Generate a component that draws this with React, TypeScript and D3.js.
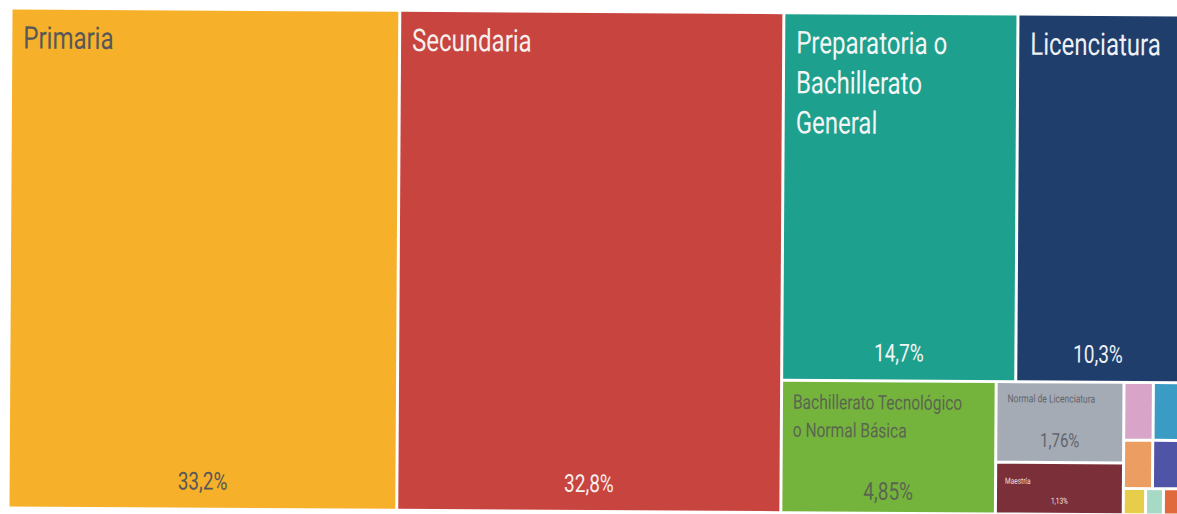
import React from "react";
import * as d3 from "d3";

// ---- data ----
const categories = [
  "Primaria",
  "Secundaria",
  "Preparatoria o Bachillerato General",
  "Licenciatura",
  "Bachillerato Tecnológico o Normal Básica",
  "Normal de Licenciatura",
  "Maestría",
  "Estudios técnicos con preparatoria",
  "Especialidad",
  "Estudios técnicos con secundaria",
  "Doctorado",
  "Preescolar",
  "Estudios técnicos con primaria",
  "No especificado",
];
const shares = [33.2, 32.8, 14.7, 10.3, 4.85, 1.76, 1.13, 0.29, 0.26, 0.24, 0.22, 0.1, 0.08, 0.07];

// ---- styles ----
const fills = [
  "#F6B02A", "#C8443E", "#1DA08D", "#1F3E6C", "#74B43C", "#A4ABB4", "#7B3039",
  "#D8A4C8", "#3A9CC5", "#EC9E62", "#5054A6", "#E6CE4B", "#A7DAC4", "#E06A3C",
];
const inks = [
  "#575757", "#F5EFEE", "#F4F6F5", "#EEF0F4", "#5B6650", "#5F646B", "#EDE2E4",
  "#333", "#333", "#333", "#333", "#333", "#333", "#333",
];

const W = 1168;
const H = 497;
const X0 = 11;
const Y0 = 13;
const SY = 1.3;
const FONT = "Roboto, 'Noto Sans', sans-serif";

const locale = d3.formatLocale({ decimal: ",", thousands: ".", grouping: [3], currency: ["$", ""] });
const fmt = (v: number) => locale.format(".3~r")(v) + "%";

let ctx: CanvasRenderingContext2D | null = null;
function measure(text: string, size: number) {
  if (!ctx) ctx = document.createElement("canvas").getContext("2d");
  if (!ctx) return text.length * size * 0.5;
  ctx.font = `${size}px Roboto`;
  return ctx.measureText(text).width;
}
function wrap(text: string, size: number, maxW: number) {
  const words = text.split(" ");
  const lines: string[] = [];
  let cur = "";
  for (const w of words) {
    const t = cur ? cur + " " + w : w;
    if (cur && measure(t, size) > maxW) {
      lines.push(cur);
      cur = w;
    } else cur = t;
  }
  if (cur) lines.push(cur);
  return lines;
}

function labelStyle(w: number, h: number) {
  if (h > 300) return { title: 24, pct: 19, lead: 40, top: 39, bottom: 18, pad: 11 };
  if (w > 180) return { title: 15.5, pct: 19, lead: 28, top: 27, bottom: 12, pad: 10 };
  if (h > 60) return { title: 8.5, pct: 15, lead: 12, top: 19, bottom: 14, pad: 10 };
  if (w > 100) return { title: 6.5, pct: 6.5, lead: 9, top: 20, bottom: 9, pad: 8 };
  return null;
}

type Datum = { name?: string; value?: number; i?: number; children?: Datum[] };

export default function App() {
  const data: Datum = {
    children: categories.map((name, i) => ({ name, value: shares[i], i })),
  };
  const root = d3.hierarchy<Datum>(data).sum((d) => d.value ?? 0);
  d3
    .treemap<Datum>()
    .tile(d3.treemapSquarify.ratio(1.3))
    .size([W, H])
    .paddingInner(3)(root);
  const leaves = root.leaves() as d3.HierarchyRectangularNode<Datum>[];

  return (
    <svg
      width={1177}
      height={514}
      style={{ position: "absolute", left: 0, top: 0, background: "#fff" }}
    >
      <g transform={`rotate(0.35 ${X0 + W / 2} ${Y0 + H / 2}) translate(${X0},${Y0})`}>
        {leaves.map((n) => {
          const i = n.data.i as number;
          const w = n.x1 - n.x0;
          const h = n.y1 - n.y0;
          const st = labelStyle(w, h);
          const lines = st ? wrap(n.data.name as string, st.title, w - st.pad - 24) : [];
          return (
            <g key={i} transform={`translate(${n.x0},${n.y0})`}>
              <rect width={w} height={h} fill={fills[i]} />
              {st &&
                lines.map((ln, k) => (
                  <text
                    key={k}
                    transform={`translate(${st.pad},${st.top + k * st.lead}) scale(1,${SY})`}
                    fontFamily={FONT}
                    fontSize={st.title}
                    fill={inks[i]}
                  >
                    {ln}
                  </text>
                ))}
              {st && (
                <text
                  transform={`translate(${w / 2},${h - st.bottom}) scale(1,${SY})`}
                  textAnchor="middle"
                  fontFamily={FONT}
                  fontSize={st.pct}
                  fill={inks[i]}
                >
                  {fmt(n.data.value as number)}
                </text>
              )}
            </g>
          );
        })}
      </g>
    </svg>
  );
}
